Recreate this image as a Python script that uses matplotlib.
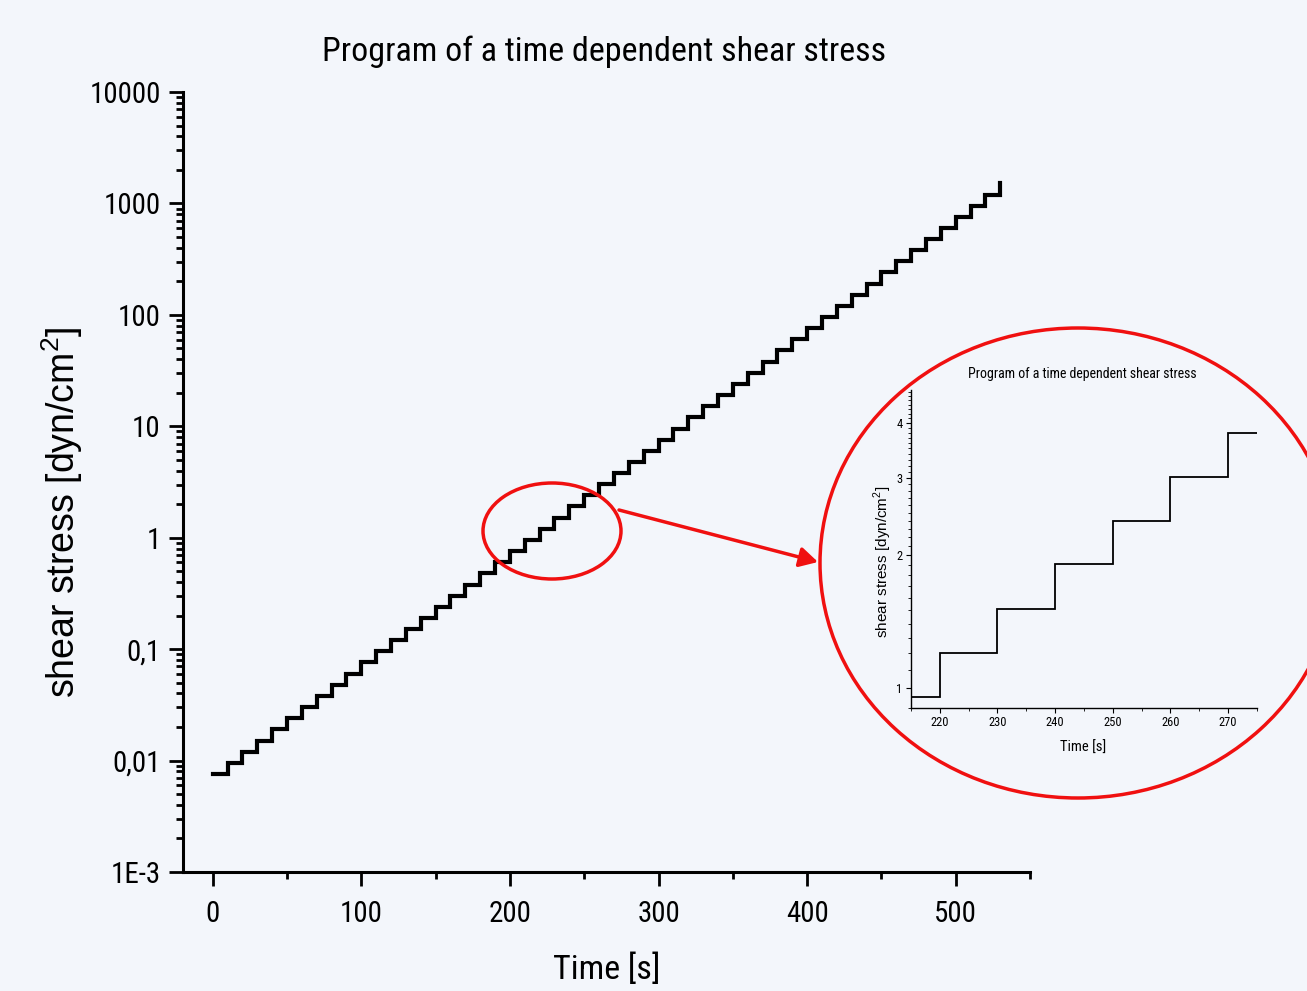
import matplotlib
matplotlib.use("Agg")
import numpy as np
import matplotlib.pyplot as plt
from matplotlib import font_manager, ticker
from matplotlib.patches import Ellipse, FancyArrowPatch

# step program: a new stress level every 10 s
time_s = [0, 10, 20, 30, 40, 50, 60, 70, 80, 90,
          100, 110, 120, 130, 140, 150, 160, 170, 180, 190,
          200, 210, 220, 230, 240, 250, 260, 270, 280, 290,
          300, 310, 320, 330, 340, 350, 360, 370, 380, 390,
          400, 410, 420, 430, 440, 450, 460, 470, 480, 490,
          500, 510, 520, 530]
shear_stress = [0.00759, 0.00955, 0.0120, 0.0151, 0.0191, 0.0240, 0.0302, 0.0380, 0.0479, 0.0603,
                0.0759, 0.0955, 0.120, 0.151, 0.191, 0.240, 0.302, 0.380, 0.479, 0.603,
                0.759, 0.955, 1.20, 1.51, 1.91, 2.40, 3.02, 3.80, 4.79, 6.03,
                7.59, 9.55, 12.0, 15.1, 19.1, 24.0, 30.2, 38.0, 47.9, 60.3,
                75.9, 95.5, 120, 151, 191, 240, 302, 380, 479, 603,
                759, 955, 1200, 1510]

y_ticks = [1e-3, 1e-2, 1e-1, 1, 10, 100, 1000, 10000]
y_tick_labels = ["1E-3", "0,01", "0,1", "1", "10", "100", "1000", "10000"]
x_ticks = [0, 100, 200, 300, 400, 500]

zoom_x_ticks = [220, 230, 240, 250, 260, 270]
zoom_y_ticks = [1, 2, 3, 4]


def pick_font(*names):
    for name in names:
        try:
            font_manager.findfont(font_manager.FontProperties(family=name), fallback_to_default=False)
            return name
        except ValueError:
            pass
    return "DejaVu Sans"


narrow = pick_font("Liberation Sans Narrow", "Roboto Condensed", "Arial Narrow", "Liberation Sans")
regular = pick_font("Liberation Sans", "DejaVu Sans")
is_narrow = narrow != regular
k = 1.1 if is_narrow else 1.0   # narrow faces can run a bit larger

plt.rcParams["font.family"] = [narrow, "DejaVu Sans"]
plt.rcParams["mathtext.fontset"] = "custom"
plt.rcParams["mathtext.rm"] = regular

bg = "#f3f6fb"
W, H = 1307, 991
fig = plt.figure(figsize=(W / 100, H / 100), dpi=100, facecolor=bg)


def fx(px):
    return px / W


def fy(py):
    return 1 - py / H


# main chart
ax = fig.add_axes([fx(183), fy(872), fx(847), 780 / H], facecolor=bg)
ax.plot(time_s, shear_stress, drawstyle="steps-post", color="black", lw=3.0,
        solid_joinstyle="miter")
ax.set_yscale("log")
ax.set_xlim(-20, 550)
ax.set_ylim(1e-3, 1e4)
for side in ("top", "right"):
    ax.spines[side].set_visible(False)
for side in ("left", "bottom"):
    ax.spines[side].set_linewidth(2.2)
ax.set_xticks(x_ticks)
ax.xaxis.set_minor_locator(ticker.FixedLocator([50, 150, 250, 350, 450, 550]))
ax.set_yticks(y_ticks)
ax.set_yticklabels(y_tick_labels)
ax.yaxis.set_minor_locator(ticker.LogLocator(base=10, subs=np.arange(2, 10), numticks=20))
ax.yaxis.set_minor_formatter(ticker.NullFormatter())
ax.tick_params(which="major", direction="out", length=10, width=2, labelsize=19 * k, pad=6)
ax.tick_params(axis="x", which="major", pad=10)
ax.tick_params(which="minor", direction="out", length=5, width=2)

fig.text(fx(604), fy(52), "Program of a time dependent shear stress", fontsize=24.5,
         ha="center", va="center")
fig.text(fx(607), fy(970), "Time [s]", fontsize=24.5, ha="center", va="center")
fig.text(fx(62), fy(512), "shear stress [dyn/cm$^2$]", fontsize=27, family=regular,
         rotation=90, ha="center", va="center")

# zoomed view of 215-275 s
ins = fig.add_axes([fx(911), fy(708), fx(346), 318 / H], facecolor="none")
ins.plot(time_s, shear_stress, drawstyle="steps-post", color="black", lw=1.3,
         solid_joinstyle="miter")
ins.set_yscale("log")
ins.set_xlim(215, 275)
ins.set_ylim(0.9, 4.75)
for side in ("top", "right"):
    ins.spines[side].set_visible(False)
for side in ("left", "bottom"):
    ins.spines[side].set_linewidth(1.0)
ins.set_xticks(zoom_x_ticks)
ins.xaxis.set_minor_locator(ticker.MultipleLocator(5))
ins.set_yticks(zoom_y_ticks)
ins.set_yticklabels([str(v) for v in zoom_y_ticks])
ins.yaxis.set_minor_locator(ticker.FixedLocator(np.arange(0.9, 4.8, 0.1)))
ins.yaxis.set_minor_formatter(ticker.NullFormatter())
ins.tick_params(which="major", direction="out", length=3.5, width=0.8, labelsize=9, pad=2.5)
ins.tick_params(which="minor", direction="out", length=2, width=0.6)
fig.text(fx(1082), fy(374), "Program of a time dependent shear stress", fontsize=10,
         ha="center", va="center")
fig.text(fx(1083), fy(748), "Time [s]", fontsize=10.5, ha="center", va="center")
fig.text(fx(883), fy(562), "shear stress [dyn/cm$^2$]", fontsize=11, family=regular,
         rotation=90, ha="center", va="center")

# highlight marks and arrow
red = "#f01010"
fig.add_artist(Ellipse((fx(552), fy(531)), fx(138), 96 / H, transform=fig.transFigure,
                       fill=False, edgecolor=red, lw=2.5))
fig.add_artist(Ellipse((fx(1078), fy(563)), fx(516), 470 / H, transform=fig.transFigure,
                       fill=False, edgecolor=red, lw=2.5))
fig.add_artist(FancyArrowPatch((fx(619), fy(510)), (fx(818), fy(562)),
                               transform=fig.transFigure, color=red, lw=2.5,
                               arrowstyle="-|>,head_length=0.55,head_width=0.3",
                               mutation_scale=20, shrinkA=0, shrinkB=0))

fig.savefig("out.png", dpi=100, facecolor=bg)
